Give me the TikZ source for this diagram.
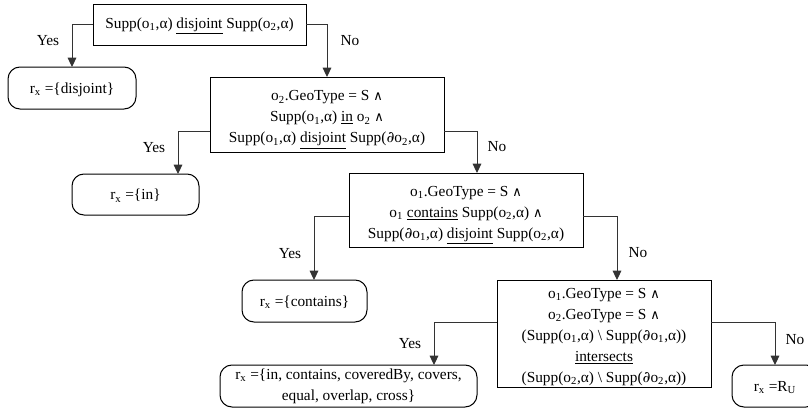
\documentclass[tikz,border=0pt]{standalone}
\usepackage{fontspec}
\setmainfont{Liberation Serif}
\newfontfamily\symfont{DejaVu Serif}
\usetikzlibrary{arrows.meta}
\newcommand{\sbs}[1]{\textsubscript{#1}}
\newcommand{\wdg}{{\symfont\scalebox{0.85}{∧}}}
\newcommand{\prt}{{\symfont ∂}}
\newcommand{\lift}[1]{\rule{0pt}{#1}}
\begin{document}
\begin{tikzpicture}[x=0.75pt,y=-0.75pt,
  every node/.style={font=\fontsize{11.5}{15.75}\selectfont},
  cond/.style={draw=black, line width=0.75pt, inner sep=0pt, outer sep=0pt, align=center},
  res/.style={draw=black, line width=0.75pt, rounded corners=9pt, inner sep=0pt, outer sep=0pt, align=center},
  conn/.style={draw=black!80, line width=0.75pt, -{Triangle[width=6.5pt,length=7pt]}},
  lbl/.style={inner sep=0pt}]
\clip (0,0) rectangle (808,414);
% decision boxes
\node[cond, minimum width=159.75pt, minimum height=30.75pt] (B1) at (199.5,24.5)
  {\lift{10pt}Supp(o\sbs{1},α) \underline{disjoint} Supp(o\sbs{2},α)};
\node[cond, minimum width=175.5pt, minimum height=56.25pt] (B2) at (327,114.5)
  {\lift{15.5pt}o\sbs{2}.GeoType = S \wdg\\ Supp(o\sbs{1},α) \underline{in} o\sbs{2} \wdg\\ Supp(o\sbs{1},α) \underline{disjoint} Supp(\prt o\sbs{2},α)};
\node[cond, minimum width=175.5pt, minimum height=55.5pt] (B3) at (466,210)
  {\lift{15.5pt}o\sbs{1}.GeoType = S \wdg\\ o\sbs{1} \underline{contains} Supp(o\sbs{2},α) \wdg\\ Supp(\prt o\sbs{1},α) \underline{disjoint} Supp(o\sbs{2},α)};
\node[cond, minimum width=160.5pt, minimum height=80.25pt] (B4) at (604,333.5)
  {\lift{12.5pt}o\sbs{1}.GeoType = S \wdg\\ o\sbs{2}.GeoType = S \wdg\\ (Supp(o\sbs{1},α) \textbackslash{} Supp(\prt o\sbs{1},α))\\ \underline{intersects}\\ (Supp(o\sbs{2},α) \textbackslash{} Supp(\prt o\sbs{2},α))};
% result boxes
\node[res, minimum width=96pt, minimum height=31.5pt] (D1) at (72,88) {\lift{10pt}r\sbs{x} =\{disjoint\}};
\node[res, minimum width=95.25pt, minimum height=30.75pt] (D2) at (135.5,194.5) {\lift{10pt}r\sbs{x} =\{in\}};
\node[res, minimum width=93.75pt, minimum height=31.5pt] (D3) at (304.5,301) {\lift{10pt}r\sbs{x} =\{contains\}};
\node[res, minimum width=192.75pt, minimum height=31.5pt] (D4) at (348.5,386)
  {r\sbs{x} =\{in, contains, coveredBy, covers,\\ equal, overlap, cross\}};
\node[res, minimum width=64.5pt, minimum height=31.5pt] (D5) at (775,386) {\lift{10pt}r\sbs{x} =R\sbs{U}};
% connectors
\draw[conn] (B1.west) -| (D1.north);
\draw[conn] (B1.east) -| (B2.north);
\draw[conn] (B2.west |- 0,131) -| (178,0 |- D2.north);
\draw[conn] (B2.east |- 0,131) -| (477,0 |- B3.north);
\draw[conn] (B3.west |- 0,216) -| (314,0 |- D3.north);
\draw[conn] (B3.east |- 0,216) -| (617,0 |- B4.north);
\draw[conn] (B4.west |- 0,322) -| (434,0 |- D4.north);
\draw[conn] (B4.east |- 0,322) -| (D5.north);
% labels
\node[lbl] (L1) at (48,41) {Yes};
\node[lbl] (L2) at (350,41) {No};
\node[lbl] (L3) at (154,148) {Yes};
\node[lbl] (L4) at (497,147) {No};
\node[lbl] (L5) at (290,254) {Yes};
\node[lbl] (L6) at (638,253) {No};
\node[lbl] (L7) at (410,344) {Yes};
\node[lbl] (L8) at (795,340) {No};
\end{tikzpicture}
\end{document}
